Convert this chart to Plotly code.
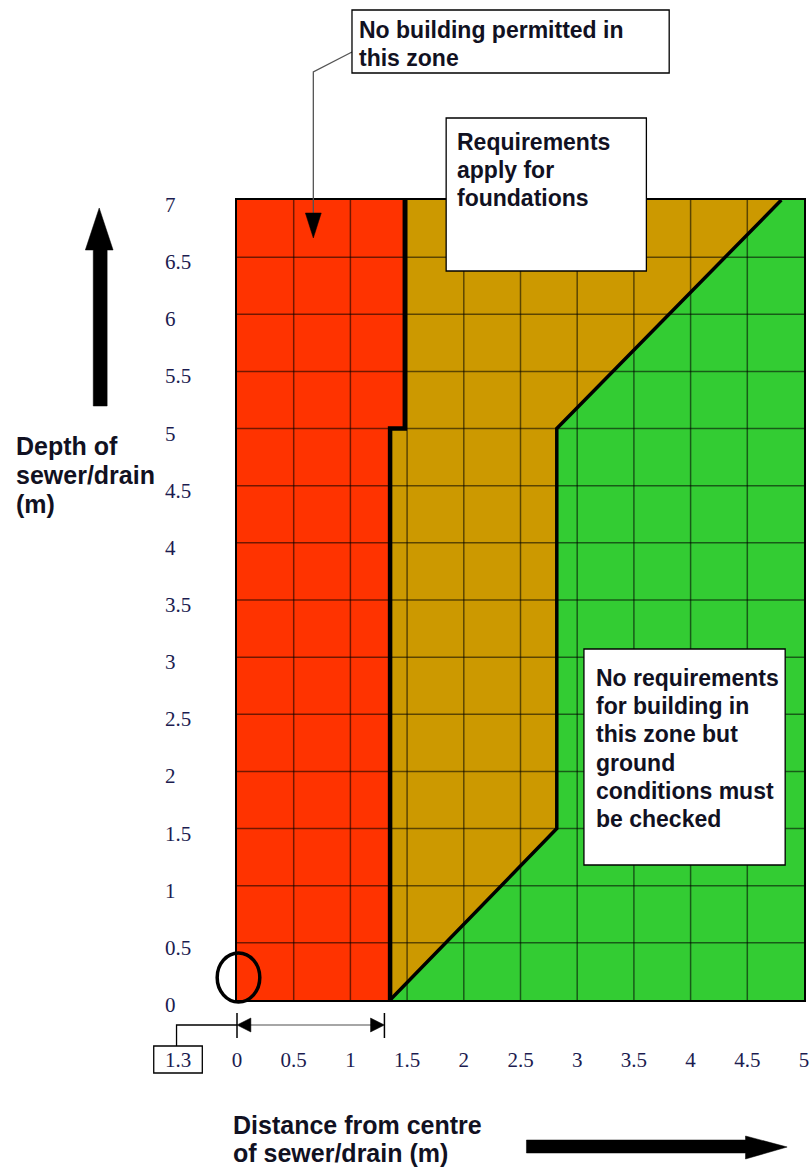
import plotly.graph_objects as go

# ---------------- data ----------------
dist_ticks = [0, 0.5, 1, 1.5, 2, 2.5, 3, 3.5, 4, 4.5, 5]
dist_labels = ["0", "0.5", "1", "1.5", "2", "2.5", "3", "3.5", "4", "4.5", "5"]
depth_ticks = [0, 0.5, 1, 1.5, 2, 2.5, 3, 3.5, 4, 4.5, 5, 5.5, 6, 6.5, 7]
depth_labels = ["0", "0.5", "1", "1.5", "2", "2.5", "3", "3.5", "4", "4.5",
                "5", "5.5", "6", "6.5", "7"]

# zone polygons (distance m, depth m)
no_build_x = [0, 1.35, 1.35, 1.48, 1.48, 0]
no_build_y = [0, 0, 5, 5, 7, 7]
foundation_x = [1.35, 2.82, 2.82, 4.8, 1.48, 1.48, 1.35]
foundation_y = [0, 1.5, 5, 7, 7, 5, 5]
no_req_x = [1.35, 5, 5, 4.8, 2.82, 2.82]
no_req_y = [0, 0, 7, 7, 5, 1.5]

# boundary lines
inner_x = [1.48, 1.48, 1.35, 1.35]
inner_y = [7, 5, 5, 0]
outer_x = [1.35, 2.82, 2.82, 4.8]
outer_y = [0, 1.5, 5, 7]

offset_value = 1.3
offset_label = "1.3"

box1_lines = ["No building permitted in", "this zone"]
box2_lines = ["Requirements", "apply for", "foundations"]
box3_lines = ["No requirements", "for building in", "this zone but", "ground",
              "conditions must", "be checked"]
ytitle_lines = ["Depth of", "sewer/drain", "(m)"]
xtitle_lines = ["Distance from centre", "of sewer/drain (m)"]

# ---------------- geometry helpers ----------------
W, H = 811, 1169
L, R, T, B = 237, 2, 200, 169
PW = W - L - R
PH = H - T - B
XMAX, YMAX = 5, 7


def px(x):
    return (x - L) / PW


def py(y):
    return (H - B - y) / PH


def dx(v):  # data distance -> pixel x
    return L + v / XMAX * PW


def path_shape(points, fill=None, color="black", width=1.2, closed=True):
    d = "M" + " L".join(f"{px(a):.5f},{py(b):.5f}" for a, b in points)
    if closed:
        d += " Z"
    s = dict(type="path", xref="paper", yref="paper", path=d, layer="above",
             line=dict(color=color, width=width))
    s["fillcolor"] = fill if fill else "rgba(0,0,0,0)"
    return s


def rect_shape(x0, y0, x1, y1, width=1.3):
    return dict(type="rect", xref="paper", yref="paper", x0=px(x0), x1=px(x1),
                y0=py(y1), y1=py(y0), fillcolor="white", layer="above",
                line=dict(color="black", width=width))


fig = go.Figure()

RED = "#FF3300"
ORANGE = "#CC9900"
GREEN = "#33CC33"

fig.add_trace(go.Scatter(x=no_build_x, y=no_build_y, fill="toself", fillcolor=RED,
                         mode="lines", line=dict(width=0, color=RED), hoverinfo="skip"))
fig.add_trace(go.Scatter(x=foundation_x, y=foundation_y, fill="toself", fillcolor=ORANGE,
                         mode="lines", line=dict(width=0, color=ORANGE), hoverinfo="skip"))
fig.add_trace(go.Scatter(x=no_req_x, y=no_req_y, fill="toself", fillcolor=GREEN,
                         mode="lines", line=dict(width=0, color=GREEN), hoverinfo="skip"))

# grid drawn above the fills
gx, gy = [], []
for v in dist_ticks[1:-1]:
    gx += [v, v, None]
    gy += [depth_ticks[0], depth_ticks[-1], None]
for v in depth_ticks[1:-1]:
    gx += [dist_ticks[0], dist_ticks[-1], None]
    gy += [v, v, None]
fig.add_trace(go.Scatter(x=gx, y=gy, mode="lines", hoverinfo="skip",
                         line=dict(color="rgba(0,0,0,0.55)", width=1.5)))

fig.add_trace(go.Scatter(x=inner_x, y=inner_y, mode="lines", hoverinfo="skip",
                         line=dict(color="black", width=4.5)))
fig.add_trace(go.Scatter(x=outer_x, y=outer_y, mode="lines", hoverinfo="skip",
                         line=dict(color="black", width=3.5)))

shapes = []
# big axis arrows
shapes.append(path_shape([(92, 406), (92, 250), (84, 250), (98, 208), (112, 250),
                          (106, 250), (106, 406)], fill="black", width=0.5))
shapes.append(path_shape([(529, 1140), (750, 1140), (750, 1136), (792, 1147),
                          (750, 1159), (750, 1153), (529, 1153)], fill="black", width=0.5))

# pipe circle
shapes.append(dict(type="circle", xref="paper", yref="paper", layer="above",
                   x0=px(217), x1=px(260), y0=py(1002), y1=py(953),
                   line=dict(color="black", width=3.5)))

# dimension line for the offset
x_end = dx(offset_value)
for xx in (L, x_end):
    shapes.append(path_shape([(xx, 1013), (xx, 1038)], width=1.5, closed=False))
shapes.append(path_shape([(L + 13, 1025), (x_end - 13, 1025)], color="#888888",
                         width=1.5, closed=False))
shapes.append(path_shape([(L, 1025), (L + 14, 1018), (L + 14, 1032)], fill="black", width=0.5))
shapes.append(path_shape([(x_end, 1025), (x_end - 14, 1018), (x_end - 14, 1032)],
                         fill="black", width=0.5))
# offset label box and leader
shapes.append(path_shape([(176, 1046), (176, 1025), (L, 1025)], width=1.3, closed=False))
shapes.append(rect_shape(153, 1046, 202, 1073))

# leader for box 1
shapes.append(path_shape([(353, 52), (314, 72), (314, 214)], color="#555555",
                         width=1.3, closed=False))
shapes.append(path_shape([(306, 213), (322, 213), (314, 238)], fill="black", width=0.5))

# text boxes
shapes.append(rect_shape(353, 10, 673, 73))
shapes.append(rect_shape(448, 118, 650, 271))
shapes.append(rect_shape(587, 649, 790, 865))

annotations = []
TXT = "#111122"
SANS = "Liberation Sans, Arial, sans-serif"
SERIF = "Liberation Serif, Times New Roman, serif"


def add_lines(lines, x0, y_first, step, size):
    for i, t in enumerate(lines):
        annotations.append(dict(text=t, xref="paper", yref="paper", x=px(x0 - 2),
                                y=py(y_first + i * step), xanchor="left", yanchor="middle",
                                showarrow=False,
                                font=dict(family=SANS, size=size, color=TXT, weight="bold")))


add_lines(box1_lines, 360, 30, 28, 23)
add_lines(box2_lines, 459, 142, 28, 23)
add_lines(box3_lines, 599, 678, 28.2, 23)
add_lines(ytitle_lines, 14, 446, 29, 25)
add_lines(xtitle_lines, 233, 1125, 28, 25)

# y tick labels (left aligned in the original)
for v, t in zip(depth_ticks, depth_labels):
    annotations.append(dict(text=t, xref="paper", yref="y", x=px(162), y=v,
                            xanchor="left", yanchor="middle", yshift=-5, showarrow=False,
                            font=dict(family=SERIF, size=21, color="#1c1c50")))

annotations.append(dict(text=offset_label, xref="paper", yref="paper", x=px(177.5),
                        y=py(1059.5), xanchor="center", yanchor="middle", showarrow=False,
                        font=dict(family=SERIF, size=21, color="#1c1c50")))

fig.update_layout(
    width=W, height=H,
    margin=dict(l=L, r=R, t=T, b=B),
    paper_bgcolor="white", plot_bgcolor="white",
    showlegend=False,
    shapes=shapes,
    annotations=annotations,
    xaxis=dict(range=[0, XMAX], tickvals=dist_ticks, ticktext=dist_labels,
               showgrid=False, zeroline=False, showline=True, mirror=True,
               linecolor="black", linewidth=1.5, ticks="", ticklabelstandoff=40,
               ticklabeloverflow="allow",
               tickfont=dict(family=SERIF, size=21, color="#1c1c50"),
               layer="above traces", fixedrange=True),
    yaxis=dict(range=[0, YMAX], tickvals=depth_ticks, showticklabels=False,
               showgrid=False, zeroline=False, showline=True, mirror=True,
               linecolor="black", linewidth=1.5, ticks="",
               layer="above traces", fixedrange=True),
)

fig.write_html("out.html", config={"displayModeBar": False},
               post_script="document.body.style.margin='0';document.body.style.padding='0';"
                           "document.body.style.overflow='hidden';")
